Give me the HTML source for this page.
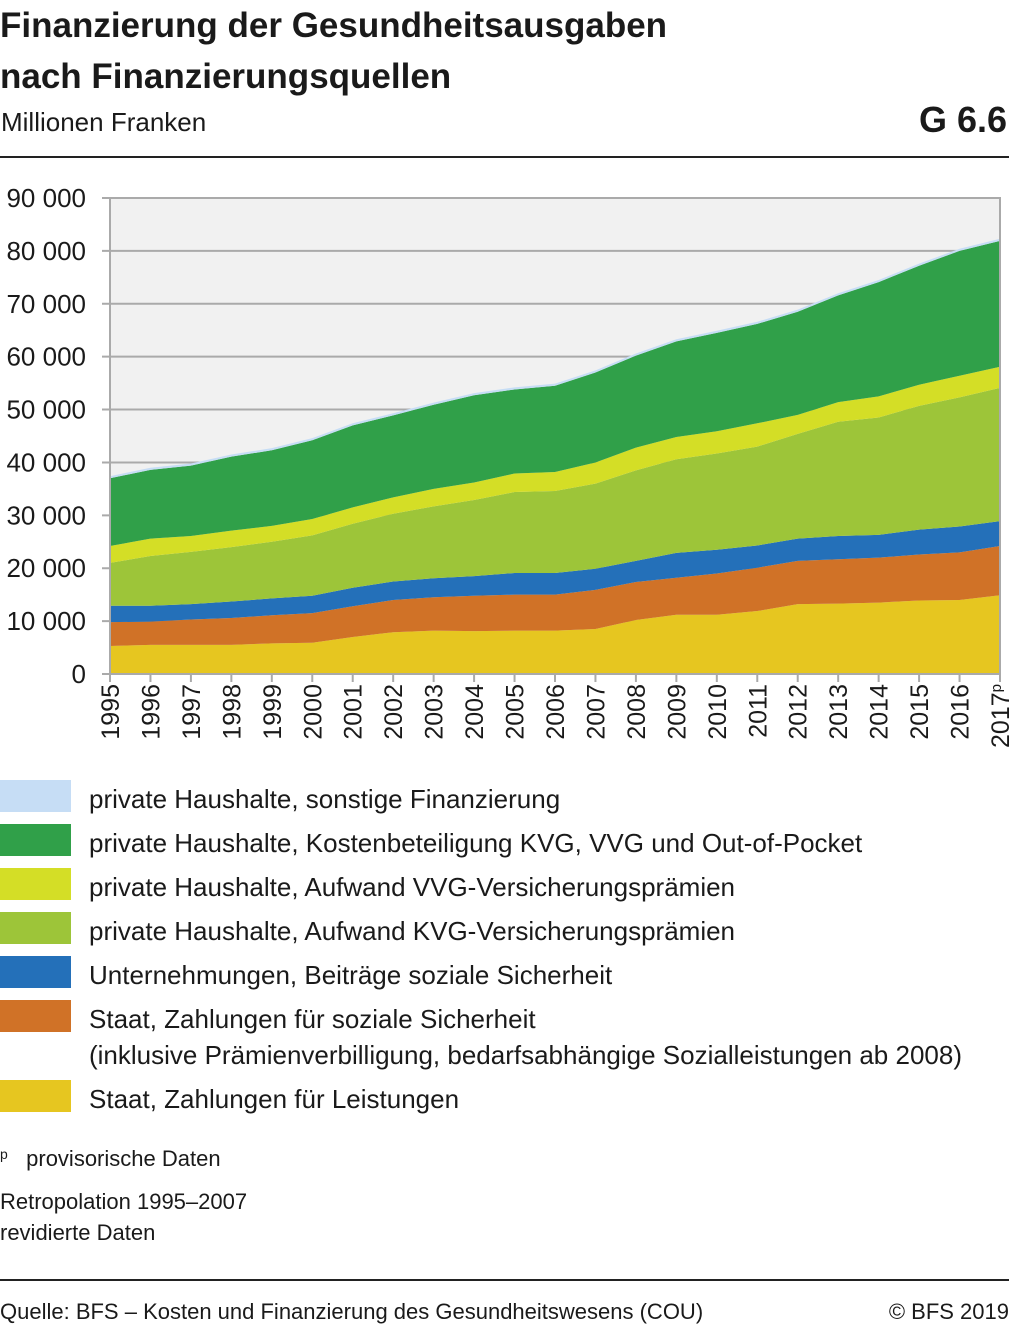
<!DOCTYPE html>
<html><head><meta charset="utf-8"><style>
body{margin:0;width:1009px;height:1328px;background:#fff;font-family:"Liberation Sans",sans-serif;color:#1a1a1a;position:relative;overflow:hidden}
.t{position:absolute;white-space:nowrap}
</style></head><body>
<div class="t" style="left:0;top:0;font-size:35px;font-weight:bold;line-height:51px">Finanzierung der Gesundheitsausgaben<br>nach Finanzierungsquellen</div>
<div class="t" style="left:1px;top:107px;font-size:26px">Millionen Franken</div>
<div class="t" style="right:2px;top:99px;font-size:36px;font-weight:bold">G 6.6</div>
<div style="position:absolute;left:0;top:156px;width:1009px;height:2px;background:#222"></div>
<svg id="chart" style="position:absolute;left:0;top:0" width="1009" height="760"></svg>
<div id="legend"></div>
<div class="t" style="left:0;top:1146px;font-size:22px"><span style="font-size:14px;vertical-align:top">p</span>&nbsp;&nbsp;&nbsp;provisorische Daten</div>
<div class="t" style="left:0;top:1186px;font-size:22px;line-height:31px">Retropolation 1995–2007<br>revidierte Daten</div>
<div style="position:absolute;left:0;top:1279px;width:1009px;height:2px;background:#222"></div>
<div class="t" style="left:0;top:1299px;font-size:22px">Quelle: BFS – Kosten und Finanzierung des Gesundheitswesens (COU)</div>
<div class="t" style="right:0;top:1299px;font-size:22px">© BFS 2019</div>
<script>
const years=["1995","1996","1997","1998","1999","2000","2001","2002","2003","2004","2005","2006","2007","2008","2009","2010","2011","2012","2013","2014","2015","2016","2017"];
const yTicks=[0,10000,20000,30000,40000,50000,60000,70000,80000,90000];
const staatLeistungen=[5300,5500,5500,5500,5800,5900,7000,7900,8200,8100,8200,8200,8500,10200,11200,11200,11900,13200,13300,13500,13900,14000,14900];
const staatSozial=[4500,4400,4800,5100,5300,5600,5800,6100,6300,6700,6800,6800,7400,7200,7000,7800,8200,8200,8400,8500,8700,9000,9300];
const unternehmen=[3100,3000,2900,3100,3200,3300,3500,3500,3600,3700,4100,4100,4000,4000,4700,4500,4200,4200,4400,4300,4700,4900,4700];
const kvg=[8100,9400,9900,10300,10700,11400,12100,12800,13600,14400,15300,15500,16100,17100,17700,18200,18700,19800,21600,22200,23400,24400,25200];
const vvg=[3200,3300,3000,3100,3000,3100,3100,3100,3300,3300,3500,3600,4000,4300,4200,4200,4400,3600,3700,4000,4000,4100,4000];
const oop=[12800,13000,13300,14000,14300,14900,15500,15500,15900,16500,15900,16300,17000,17400,18100,18600,18800,19500,20200,21600,22500,23600,23800];
const sonstige=[400,400,400,400,400,400,400,400,400,400,400,400,400,400,400,400,400,400,400,400,400,400,400];

const NS="http://www.w3.org/2000/svg";
const svg=document.getElementById('chart');
const X0=110,X1=1000,Y0=674,Y1=198,YMAX=90000;
const xs=i=>X0+(X1-X0)*i/(years.length-1);
const ys=v=>Y0-(Y0-Y1)*v/YMAX;
function mk(t,a){const e=document.createElementNS(NS,t);for(const k in a)e.setAttribute(k,a[k]);svg.appendChild(e);return e;}
const bg=mk('rect',{x:X0,y:Y1,width:X1-X0,height:Y0-Y1,fill:'#f1f1f1'});


yTicks.forEach(v=>{
  const g=mk('line',{x1:X0-8,x2:X1,y1:ys(v),y2:ys(v),stroke:'#aaa','stroke-width':2});
  
  
  const t=mk('text',{x:86,y:ys(v)+9,'text-anchor':'end','font-size':26,fill:'#1a1a1a'});
  t.textContent=v===0?'0':(v/1000)+' 000';
  
  
});
const series=[
 {d:staatLeistungen,c:'#e6c620',n:'Staat, Zahlungen für Leistungen',k:'series-staat-leistungen'},
 {d:staatSozial,c:'#d07227',n:'Staat, Zahlungen für soziale Sicherheit',n2:'(inklusive Prämienverbilligung, bedarfsabhängige Sozialleistungen ab 2008)',k:'series-staat-sozial'},
 {d:unternehmen,c:'#2470b9',n:'Unternehmungen, Beiträge soziale Sicherheit',k:'series-unternehmungen'},
 {d:kvg,c:'#9dc539',n:'private Haushalte, Aufwand KVG-Versicherungsprämien',k:'series-kvg'},
 {d:vvg,c:'#d4de26',n:'private Haushalte, Aufwand VVG-Versicherungsprämien',k:'series-vvg'},
 {d:oop,c:'#30a049',n:'private Haushalte, Kostenbeteiligung KVG, VVG und Out-of-Pocket',k:'series-oop'},
 {d:sonstige,c:'#c6ddf5',n:'private Haushalte, sonstige Finanzierung',k:'series-sonstige'}
];
let base=years.map(()=>0);
series.forEach(s=>{
  const top=base.map((b,i)=>b+s.d[i]);
  let p='M'+years.map((_,i)=>xs(i)+','+ys(top[i])).join('L');
  for(let i=years.length-1;i>=0;i--)p+='L'+xs(i)+','+ys(base[i]);
  const a=mk('path',{d:p+'Z',fill:s.c});
  
  
  base=top;
});
const fr=mk('rect',{x:X0,y:Y1,width:X1-X0,height:Y0-Y1,fill:'none',stroke:'#aaa','stroke-width':2});


years.forEach((y,i)=>{
  const tk=mk('line',{x1:xs(i),x2:xs(i),y1:Y0,y2:Y0+8,stroke:'#aaa','stroke-width':2});
  
  
  const t=mk('text',{transform:`translate(${xs(i)+9},${Y0+10}) rotate(-90)`,'text-anchor':'end','font-size':25,fill:'#1a1a1a'});
  t.textContent=y;
  if(i===years.length-1){const sp=document.createElementNS(NS,'tspan');sp.setAttribute('font-size',15);sp.setAttribute('dy',-8);sp.textContent='p';t.appendChild(sp);}
  
  
});
const lg=document.getElementById('legend');
const order=[6,5,4,3,2,1,0];
const tops=[780,824,868,912,956,1000,1080];
order.forEach((si,j)=>{
  const s=series[si];
  const e=document.createElement('div');
  
  
  e.style.cssText=`position:absolute;left:0;top:${tops[j]}px;`;
  e.innerHTML=`<div style="position:absolute;left:0;top:0;width:71px;height:32px;background:${s.c}"></div><div style="position:absolute;left:89px;top:1px;font-size:26px;white-space:nowrap;line-height:36px">${s.n}${s.n2?'<br>'+s.n2:''}</div>`;
  lg.appendChild(e);
});
</script>
</body></html>
